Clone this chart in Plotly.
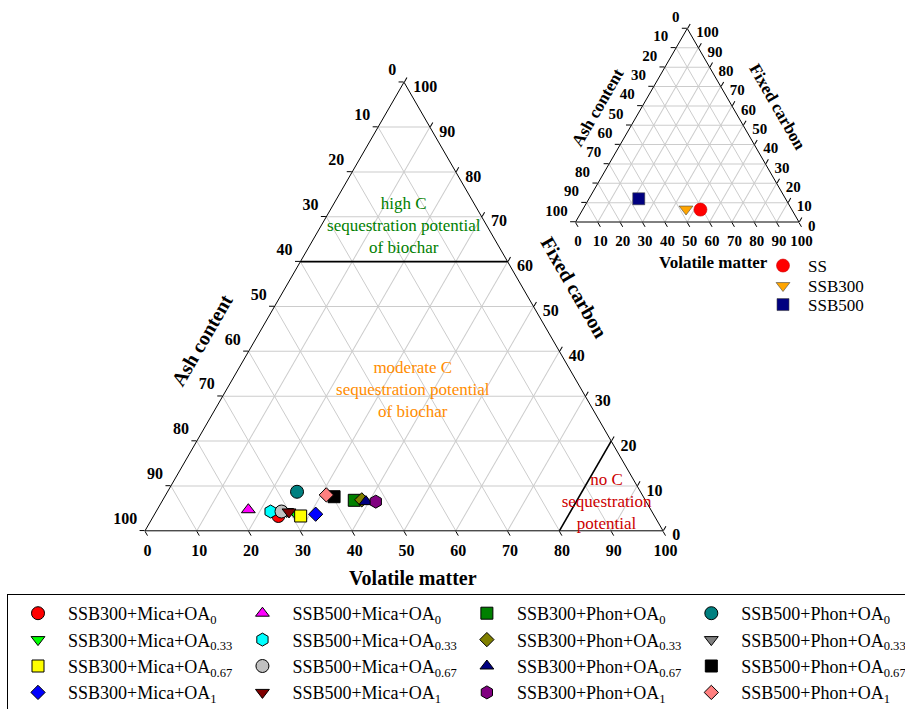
import plotly.graph_objects as go

# ---- sample compositions (wt.%) : fixed carbon / ash content / volatile matter ----
sample_names = [
    "SSB300+Mica+OA<sub>0</sub>", "SSB500+Mica+OA<sub>0</sub>", "SSB300+Phon+OA<sub>0</sub>", "SSB500+Phon+OA<sub>0</sub>",
    "SSB300+Mica+OA<sub>0.33</sub>", "SSB500+Mica+OA<sub>0.33</sub>", "SSB300+Phon+OA<sub>0.33</sub>", "SSB500+Phon+OA<sub>0.33</sub>",
    "SSB300+Mica+OA<sub>0.67</sub>", "SSB500+Mica+OA<sub>0.67</sub>", "SSB300+Phon+OA<sub>0.67</sub>", "SSB500+Phon+OA<sub>0.67</sub>",
    "SSB300+Mica+OA<sub>1</sub>", "SSB500+Mica+OA<sub>1</sub>", "SSB300+Phon+OA<sub>1</sub>", "SSB500+Phon+OA<sub>1</sub>",
]
fixed_carbon = [3.3, 4.7, 6.8, 8.7,
                3.8, 4.3, 6.9, 4.3,
                3.3, 4.3, 6.5, 7.6,
                3.7, 4.2, 6.5, 8.0]
ash_content = [72.6, 77.7, 56.2, 66.3,
               69.0, 73.6, 54.7, 70.5,
               68.3, 71.5, 54.1, 59.7,
               65.2, 70.1, 52.2, 61.0]
volatile_matter = [24.1, 17.6, 37.0, 25.0,
                   27.2, 22.1, 38.4, 25.2,
                   28.4, 24.2, 39.4, 32.7,
                   31.1, 25.7, 41.3, 31.0]
sample_symbols = ["circle", "triangle-up", "square", "circle",
                  "triangle-down", "hexagon", "diamond", "triangle-down",
                  "square", "circle", "triangle-up", "square",
                  "diamond", "triangle-down", "hexagon", "diamond"]
sample_colors = ["#ff0000", "#ff00ff", "#008000", "#008080",
                 "#00ff00", "#00ffff", "#808000", "#808080",
                 "#ffff00", "#c0c0c0", "#000080", "#000000",
                 "#0000ff", "#800000", "#800080", "#ff8080"]

# ---- raw sludge and biochars ----
raw_names = ["SS", "SSB300", "SSB500"]
raw_fixed_carbon = [6.4, 6.7, 12.0]
raw_ash = [40.9, 47.2, 65.7]
raw_volatile = [52.7, 46.1, 22.3]
raw_symbols = ["circle", "triangle-down", "square"]
raw_colors = ["#ff0000", "#ffa500", "#000080"]

# ---- region boundaries and labels ----
boundary_fc = [[60, 60], [0, 20]]
boundary_ash = [[40, 0], [20, 0]]
boundary_vm = [[0, 40], [80, 80]]
region_text = ["high C<br>sequestration potential<br>of biochar",
               "moderate C<br>sequestration potential<br>of biochar",
               "no C<br>sequestration<br>potential"]
region_colors = ["#008000", "#ff8c00", "#cc0000"]
region_fc = [67.7, 31.2, 6.2]
region_ash = [16.2, 32.7, 7.8]
region_vm = [16.1, 36.1, 86.0]

tick_vals = list(range(0, 101, 10))
NB = "\u00a0"
# left edge: ash content (0 at the apex), lifted half a line above the tick
left_text = [f"{100 - v}<br>{NB}" for v in tick_vals]
# bottom edge: volatile matter (0 at the left corner)
bottom_text = [str(100 - v) for v in tick_vals]
# right edge: fixed carbon (0 at the right corner), dropped half a line
right_text = [f"{NB}<br>{NB}{100 - v}" for v in tick_vals]

SERIF = "Liberation Serif"
W, H = 905, 709

fig = go.Figure()


def marker_size(sym):
    if sym.startswith("triangle"):
        return 12
    if sym == "diamond":
        return 11
    if sym == "square":
        return 12
    return 13


for name, fc, ash, vm, sym, col in zip(sample_names, fixed_carbon, ash_content,
                                       volatile_matter, sample_symbols, sample_colors):
    fig.add_trace(go.Scatterternary(
        a=[fc], b=[ash], c=[vm], mode="markers", name=name, subplot="ternary",
        marker=dict(symbol=sym, color=col, size=marker_size(sym),
                    line=dict(color="black", width=1)),
        legend="legend", showlegend=True, cliponaxis=False))

for fcs, ashs, vms in zip(boundary_fc, boundary_ash, boundary_vm):
    fig.add_trace(go.Scatterternary(
        a=fcs, b=ashs, c=vms, mode="lines", subplot="ternary", showlegend=False,
        line=dict(color="black", width=1.6), hoverinfo="skip"))

fig.add_trace(go.Scatterternary(
    a=region_fc, b=region_ash, c=region_vm, mode="text", text=region_text,
    subplot="ternary", showlegend=False, hoverinfo="skip", cliponaxis=False,
    textfont=dict(family=SERIF, size=17, color=region_colors)))

legend_ids = ["legend2", "legend3", "legend4"]
for name, fc, ash, vm, sym, col, lg in zip(raw_names, raw_fixed_carbon, raw_ash,
                                           raw_volatile, raw_symbols, raw_colors, legend_ids):
    fig.add_trace(go.Scatterternary(
        a=[fc], b=[ash], c=[vm], mode="markers", name=name, subplot="ternary2",
        marker=dict(symbol=sym, color=col, size=13 if sym == "circle" else 12,
                    line=dict(color="#444444" if sym != "circle" else "#cc0000", width=0.6)),
        legend=lg, showlegend=True, cliponaxis=False))


def axis(tick_text, font_size):
    return dict(
        tickmode="array", tickvals=tick_vals, ticktext=tick_text,
        ticks="outside", ticklen=5, tickcolor="black", tickwidth=1,
        showline=True, linecolor="black", linewidth=1,
        showgrid=True, gridcolor="#cccccc", gridwidth=1,
        tickfont=dict(family=SERIF, size=font_size, color="black", weight="bold"),
        title=dict(text=""), layer="below traces")


def px_dom(x0, x1, y0, y1):
    return dict(x=[x0 / W, x1 / W], y=[1 - y1 / H, 1 - y0 / H])


small_legend = dict(xanchor="left", yanchor="top", itemwidth=40,
                    font=dict(family=SERIF, size=17, color="black"),
                    bgcolor="rgba(0,0,0,0)")

fig.update_layout(
    width=W, height=H,
    margin=dict(l=0, r=0, t=0, b=0, autoexpand=False),
    paper_bgcolor="white",
    font=dict(family=SERIF, color="black"),
    ternary=dict(domain=px_dom(145, 663, 82, 531), sum=100, bgcolor="white",
                 aaxis=axis(left_text, 16), baxis=axis(bottom_text, 16),
                 caxis=axis(right_text, 16)),
    ternary2=dict(domain=px_dom(575.5, 799, 28.5, 222), sum=100, bgcolor="white",
                  aaxis=axis(left_text, 15), baxis=axis(bottom_text, 15),
                  caxis=axis(right_text, 15)),
    legend=dict(orientation="h", x=7 / W, y=1 - 594 / H, xanchor="left", yanchor="top",
                entrywidthmode="fraction", entrywidth=0.248, itemwidth=50,
                bordercolor="black", borderwidth=1, bgcolor="white",
                font=dict(family=SERIF, size=18, color="black"), traceorder="normal"),
    legend2=dict(x=758 / W, y=1 - 248 / H, **small_legend),
    legend3=dict(x=758 / W, y=1 - 268 / H, **small_legend),
    legend4=dict(x=758 / W, y=1 - 287 / H, **small_legend),
)

# axis titles drawn along the triangle edges
titles = [
    ("Ash content", 202, 340, -60, 20),
    ("Fixed carbon", 574, 287, 60, 20),
    ("Volatile matter", 413, 578, 0, 20),
    ("Ash content", 598, 108, -60, 17),
    ("Fixed carbon", 777, 107, 60, 17),
    ("Volatile matter", 713, 262, 0, 17),
]
for text, x, y, ang, size in titles:
    fig.add_annotation(text=text, x=x / W, y=1 - y / H, xref="paper", yref="paper",
                       xanchor="center", yanchor="middle",
                       showarrow=False, textangle=ang,
                       font=dict(family=SERIF, size=size, color="black", weight="bold"))

fig.write_html("out.html")
